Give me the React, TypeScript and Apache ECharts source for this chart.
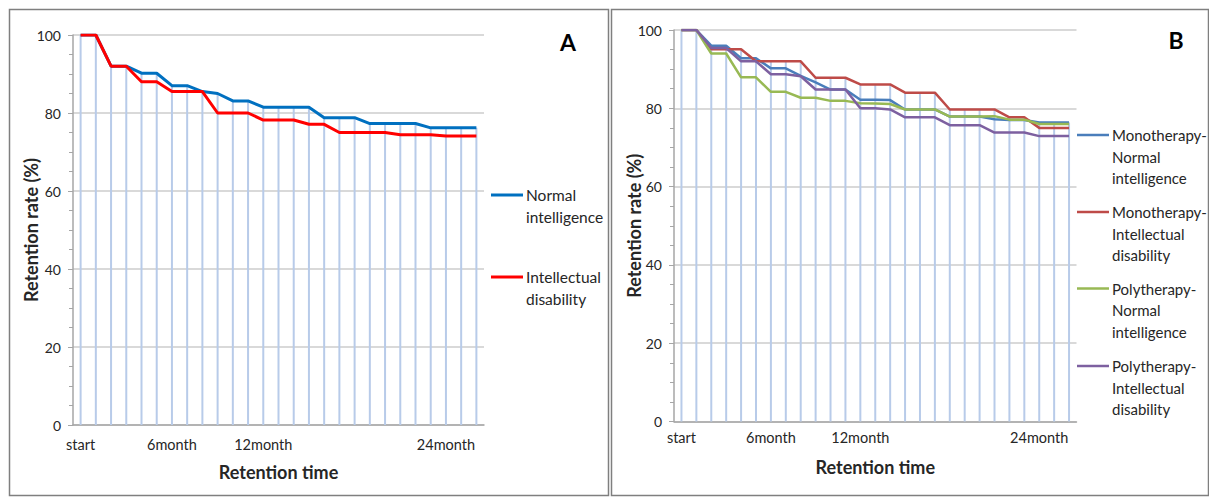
import React, { useEffect, useRef } from "react";
import * as echarts from "echarts";

// ---- data ----
const months = [0, 1, 2, 3, 4, 5, 6, 7, 8, 9, 10, 11, 12, 13, 14, 15, 16, 17, 18, 19, 20, 21, 22, 23, 24, 25, 26];
const tickMonths = [0, 6, 12, 24];
const tickLabels = ["start", "6month", "12month", "24month"];

// Panel A
const normalIntelligence = [100, 100, 92, 92, 90.2, 90.2, 87, 87, 85.5, 85, 83.1, 83.1, 81.5, 81.5, 81.5, 81.5, 78.8, 78.8, 78.8, 77.3, 77.3, 77.3, 77.3, 76.2, 76.2, 76.2, 76.2];
const intellectualDisability = [100, 100, 92, 92, 88, 88, 85.5, 85.5, 85.5, 80, 80, 80, 78.2, 78.2, 78.2, 77.1, 77.1, 75, 75, 75, 75, 74.4, 74.4, 74.4, 74.1, 74.1, 74.1];

// Panel B
const monoNormal = [100, 100, 96, 96, 92.8, 92.8, 90.2, 90.2, 88.3, 86.6, 84.8, 84.8, 82.2, 82.2, 82.1, 79.7, 79.7, 79.7, 77.9, 77.9, 77.9, 77.2, 77, 77, 76.4, 76.4, 76.4];
const monoDisability = [100, 100, 95.1, 95.1, 95.1, 92, 92, 92, 92, 87.8, 87.8, 87.8, 86.1, 86.1, 86.1, 84, 84, 84, 79.7, 79.7, 79.7, 79.7, 77.7, 77.7, 75, 75, 75];
const polyNormal = [100, 100, 94, 94, 87.9, 87.9, 84.2, 84.2, 82.7, 82.7, 81.9, 81.9, 81.3, 81.2, 81.1, 79.7, 79.7, 79.7, 77.9, 77.9, 77.9, 78, 77.1, 77.1, 76, 76, 76];
const polyDisability = [100, 100, 95.4, 95.4, 92, 92, 88.7, 88.7, 88.2, 84.8, 84.8, 84.8, 80, 80, 79.7, 77.7, 77.7, 77.7, 75.7, 75.7, 75.7, 73.8, 73.8, 73.8, 72.9, 72.9, 72.9];

const yTicks = { min: 0, max: 100, interval: 20 };

const FONT = "Lato, 'Open Sans', sans-serif";
const TEXT = "#262626";
const AXIS = "#a6a6a6";
const GRIDC = "#cccccc";
const DROP = "#b8cbe9";

function maxOf(...arrs: number[][]) {
  return arrs[0].map((_, i) => Math.max(...arrs.map((a) => a[i])));
}

function xAxisFor(gridIndex: number, margin: number, nameGap: number) {
  return {
    type: "category",
    gridIndex,
    data: months.map(String),
    boundaryGap: true,
    axisLine: { lineStyle: { color: AXIS, width: 1.5 } },
    axisTick: { show: false },
    axisLabel: {
      interval: 0,
      margin,
      color: TEXT,
      fontSize: 14.5,
      fontFamily: FONT,
      formatter: (_v: string, i: number) => {
        const k = tickMonths.indexOf(months[i]);
        return k >= 0 ? tickLabels[k] : "";
      },
    },
    splitLine: { show: false },
    name: "Retention time",
    nameLocation: "middle",
    nameGap,
    nameMoveOverlap: false,
    nameTextStyle: { color: TEXT, fontSize: 18, fontWeight: "bold", fontFamily: FONT },
  };
}

function yAxisFor(gridIndex: number, nameGap: number) {
  return {
    type: "value",
    gridIndex,
    min: yTicks.min,
    max: yTicks.max,
    interval: yTicks.interval,
    axisLine: { show: true, lineStyle: { color: AXIS, width: 1.5 } },
    axisTick: { show: true, length: 5, lineStyle: { color: AXIS } },
    minorTick: { show: true, splitNumber: 4, length: 4, lineStyle: { color: AXIS } },
    splitLine: { show: true, lineStyle: { color: GRIDC, width: 1.5 } },
    axisLabel: { color: TEXT, fontSize: 14, margin: 12, fontFamily: FONT },
    name: "Retention rate (%)",
    nameLocation: "middle",
    nameGap,
    nameMoveOverlap: false,
    nameTextStyle: { color: TEXT, fontSize: 18, fontWeight: "bold", fontFamily: FONT },
  };
}

function lineSeries(name: string, data: number[], color: string, idx: number, width: number) {
  return {
    type: "line",
    name,
    xAxisIndex: idx,
    yAxisIndex: idx,
    data,
    symbol: "none",
    z: 3,
    lineStyle: { color, width },
    itemStyle: { color },
  };
}

function dropSeries(data: number[], idx: number) {
  return {
    type: "bar",
    xAxisIndex: idx,
    yAxisIndex: idx,
    data,
    barWidth: 2,
    z: 1,
    itemStyle: { color: DROP },
    silent: true,
  };
}

function legendItem(x: number, y: number, color: string, text: string, width: number, size: number) {
  return [
    { type: "line", shape: { x1: x, y1: y, x2: x + 32, y2: y }, style: { stroke: color, lineWidth: width } },
    {
      type: "text",
      x: x + 35,
      y: y - 10.75,
      style: { text, fill: TEXT, font: `${size}px ${FONT}`, lineHeight: 21.5, verticalAlign: "top" },
    },
  ];
}

export default function App() {
  const ref = useRef<HTMLDivElement>(null);
  useEffect(() => {
    if (!ref.current) return;
    const chart = echarts.init(ref.current, null, { renderer: "svg" });
    const colA = ["#0070c0", "#ff0000"];
    const colB = ["#4a7ebb", "#be4b48", "#98b954", "#7d60a0"];
    chart.setOption({
      animation: false,
      textStyle: { fontFamily: FONT },
      grid: [
        { left: 73, top: 35, width: 411, height: 390 },
        { left: 674, top: 30, width: 402.5, height: 391.5 },
      ],
      xAxis: [xAxisFor(0, 12, 38), xAxisFor(1, 8, 36)],
      yAxis: [yAxisFor(0, 33), yAxisFor(1, 31)],
      series: [
        dropSeries(maxOf(normalIntelligence, intellectualDisability), 0),
        lineSeries("Normal intelligence", normalIntelligence, colA[0], 0, 3),
        lineSeries("Intellectual disability", intellectualDisability, colA[1], 0, 3),
        dropSeries(maxOf(monoNormal, monoDisability, polyNormal, polyDisability), 1),
        lineSeries("Monotherapy-Normal intelligence", monoNormal, colB[0], 1, 2.5),
        lineSeries("Monotherapy-Intellectual disability", monoDisability, colB[1], 1, 2.5),
        lineSeries("Polytherapy-Normal intelligence", polyNormal, colB[2], 1, 2.5),
        lineSeries("Polytherapy-Intellectual disability", polyDisability, colB[3], 1, 2.5),
      ],
      graphic: [
        { type: "rect", shape: { x: 9.5, y: 9.5, width: 599, height: 486 }, style: { fill: "none", stroke: "#7f7f7f", lineWidth: 1.5 } },
        { type: "rect", shape: { x: 611.5, y: 9.5, width: 597, height: 486 }, style: { fill: "none", stroke: "#7f7f7f", lineWidth: 1.5 } },
        { type: "text", x: 568, y: 42, style: { text: "A", fill: "#000", font: `bold 23px ${FONT}`, align: "center", verticalAlign: "middle" } },
        { type: "text", x: 1176, y: 40, style: { text: "B", fill: "#000", font: `bold 23px ${FONT}`, align: "center", verticalAlign: "middle" } },
        ...legendItem(491, 195, colA[0], "Normal\nintelligence", 3, 15.5),
        ...legendItem(491, 277, colA[1], "Intellectual\ndisability", 3, 15.5),
        ...legendItem(1077, 135, colB[0], "Monotherapy-\nNormal\nintelligence", 2.5, 15),
        ...legendItem(1077, 212, colB[1], "Monotherapy-\nIntellectual\ndisability", 2.5, 15),
        ...legendItem(1077, 288.5, colB[2], "Polytherapy-\nNormal\nintelligence", 2.5, 15),
        ...legendItem(1077, 366, colB[3], "Polytherapy-\nIntellectual\ndisability", 2.5, 15),
      ],
    });
    return () => chart.dispose();
  }, []);
  return (
    <div
      ref={ref}
      style={{ position: "absolute", left: 0, top: 0, width: 1209, height: 503, background: "#fff" }}
    />
  );
}
